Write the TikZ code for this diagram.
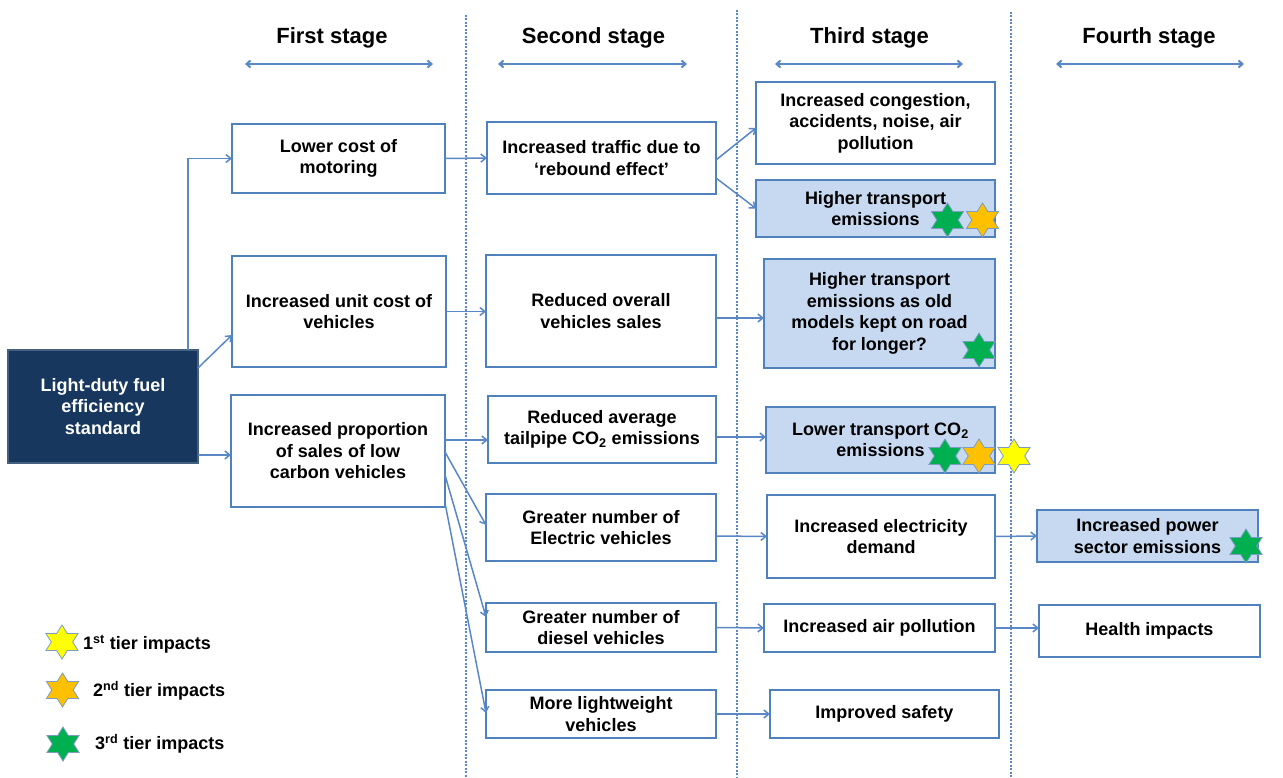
\documentclass[tikz,border=0pt]{standalone}
\usepackage{fontspec}
\setmainfont{Liberation Sans}
\usetikzlibrary{arrows.meta,calc}
\definecolor{edge}{HTML}{4F81BD}
\definecolor{linkblue}{HTML}{5A88C6}
\definecolor{paleblue}{HTML}{C6D9F1}
\definecolor{navy}{HTML}{17375E}
\definecolor{stargreen}{HTML}{00B050}
\definecolor{starorange}{HTML}{FFC000}
\definecolor{staryellow}{HTML}{FFFF00}
\definecolor{starline}{HTML}{7C9CC6}
\begin{document}
\begin{tikzpicture}[x=1pt,y=-1pt,
  every node/.style={font=\fontsize{18}{21.5}\selectfont\bfseries},
  box/.style={draw=edge, line width=1.4pt, fill=white, align=center, inner sep=2pt, outer sep=0pt},
  hibox/.style={box, fill=paleblue},
  srcbox/.style={box, draw=navy!80, fill=navy, text=white},
  link/.style={draw=linkblue, line width=1.5pt, -{Straight Barb[length=5pt,width=8pt]}},
  span/.style={draw=linkblue, line width=2pt, {Straight Barb[length=4pt,width=7pt]}-{Straight Barb[length=4pt,width=7pt]}},
  divider/.style={draw=linkblue, line width=1.2pt, dash pattern=on 2pt off 1.5pt},
  heading/.style={font=\fontsize{22}{26}\selectfont\bfseries},
  legend/.style={anchor=west, inner sep=0pt},
  % six-pointed impact star, slightly wider than tall
  pics/tierstar/.style={code={
    \filldraw[fill=#1, draw=starline, line width=0.8pt]
      plot[samples at={0,...,11}, variable=\k]
        ({1.09*(17-7.185*mod(\k,2))*cos(90+30*\k)}, {(17-7.185*mod(\k,2))*sin(90+30*\k)}) -- cycle;
  }}
]
\fill[white] (0,0) rectangle (1283,778);
\useasboundingbox (0,0) rectangle (1283,778);

% stage dividers
\draw[divider] (466,15) -- (466,778);
\draw[divider] (737,10) -- (737,778);
\draw[divider] (1011,12) -- (1011,778);

% stage headings and their spans
\node[heading] (h1) at (332,38) {First stage};
\node[heading] (h2) at (593.5,38) {Second stage};
\node[heading] (h3) at (869.5,38) {Third stage};
\node[heading] (h4) at (1149,38) {Fourth stage};
\coordinate (h1l) at (245,64);  \coordinate (h1r) at (433,64);
\coordinate (h2l) at (498,64);  \coordinate (h2r) at (687,64);
\coordinate (h3l) at (775,64);  \coordinate (h3r) at (963,64);
\coordinate (h4l) at (1056,64); \coordinate (h4r) at (1244,64);
\draw[span] (h1l) -- (h1r);
\draw[span] (h2l) -- (h2r);
\draw[span] (h3l) -- (h3r);
\draw[span] (h4l) -- (h4r);

% source
\node[srcbox, minimum width=190pt, minimum height=113pt] (lds) at (103,406.5) {Light-duty fuel\\efficiency\\standard};

% first stage
\node[box, minimum width=213pt, minimum height=69pt] (c1a) at (338.5,158.5) {Lower cost of\\motoring};
\node[box, minimum width=214pt, minimum height=111pt] (c1b) at (339,311.5) {Increased unit cost of\\vehicles};
\node[box, minimum width=214pt, minimum height=112pt] (c1c) at (338,451) {Increased proportion\\of sales of low\\carbon vehicles};

% second stage
\node[box, minimum width=229pt, minimum height=72pt] (c2a) at (601.5,158) {Increased traffic due to\\‘rebound effect’};
\node[box, minimum width=230pt, minimum height=112pt] (c2b) at (601,311) {Reduced overall\\vehicles sales};
\node[box, minimum width=228pt, minimum height=67pt] (c2c) at (602,429.5) {Reduced average\\tailpipe CO\textsubscript{2} emissions};
\node[box, minimum width=230pt, minimum height=67pt] (c2d) at (601,527.5) {Greater number of\\Electric vehicles};
\node[box, minimum width=230pt, minimum height=49pt] (c2e) at (601,627.5) {Greater number of\\diesel vehicles};
\node[box, minimum width=230pt, minimum height=48pt] (c2f) at (601,714) {More lightweight\\vehicles};

% third stage
\node[box, minimum width=239pt, minimum height=82pt] (c3a) at (875.5,123) {Increased congestion,\\accidents, noise, air\\pollution};
\node[hibox, minimum width=239pt, minimum height=57pt] (c3b) at (875.5,208.5) {Higher transport\\emissions};
\node[hibox, minimum width=231pt, minimum height=109pt] (c3c) at (879.5,313.5) {Higher transport\\emissions as old\\models kept on road\\for longer?};
\node[hibox, minimum width=229pt, minimum height=66pt] (c3d) at (880.5,440) {Lower transport CO\textsubscript{2}\\emissions};
\node[box, minimum width=228pt, minimum height=83pt] (c3e) at (881,536.5) {Increased electricity\\demand};
\node[box, minimum width=231pt, minimum height=48pt] (c3f) at (879.5,628) {Increased air pollution};
\node[box, minimum width=229pt, minimum height=48pt] (c3g) at (884.5,714) {Improved safety};

% fourth stage
\node[hibox, minimum width=221pt, minimum height=52pt] (c4a) at (1147.5,536) {Increased power\\sector emissions};
\node[box, minimum width=221pt, minimum height=52pt] (c4b) at (1149.5,631) {Health impacts};

% links
\draw[link] ([xshift=-10pt]lds.north east) |- (c1a.west);
\draw[link] ([yshift=-18pt]lds.north east) -- ([yshift=-23.5pt]c1b.west);
\draw[link] ([yshift=-48.5pt]lds.east) -- ([yshift=-48.5pt]lds.east -| c1c.west);

\draw[link] (c1a.east) -- (c2a.west);
\draw[link] (c1b.east) -- (c1b.east -| c2b.west);
\draw[link] ([yshift=11pt]c1c.east) -- ([yshift=11pt]c1c.east -| c2c.west);
\draw[link] ([yshift=-1pt]c1c.east) -- ([yshift=2.5pt]c2d.west);
\draw[link] ([yshift=-24pt]c1c.east) -- ([yshift=10.5pt]c2e.west);
\draw[link] ([yshift=4pt]c1c.south east) -- ([yshift=1pt]c2f.west);

\draw[link] ([yshift=-2pt]c2a.east) -- ([yshift=-5pt]c3a.west);
\draw[link] ([yshift=-20pt]c2a.east) -- (c3b.west);
\draw[link] ([yshift=-7pt]c2b.east) -- ([yshift=-7pt]c2b.east -| c3c.west);
\draw[link] ([yshift=-7.5pt]c2c.east) -- ([yshift=-7.5pt]c2c.east -| c3d.west);
\draw[link] ([yshift=-8.5pt]c2d.east) -- (c3e.west);
\draw[link] (c2e.east) -- (c3f.west);
\draw[link] (c2f.east) -- (c3g.west);

\draw[link] (c3e.east) -- (c4a.west);
\draw[link] (c3f.east) -- (c3f.east -| c4b.west);

% impact stars
\pic at (947.5,220) {tierstar=stargreen};
\pic at (982.5,220) {tierstar=starorange};
\pic at (979,350) {tierstar=stargreen};
\pic at (945,456) {tierstar=stargreen};
\pic at (979,456) {tierstar=starorange};
\pic at (1014,456) {tierstar=staryellow};
\pic at (1246,546) {tierstar=stargreen};

% legend
\pic at (62,642) {tierstar=staryellow};
\pic at (62.5,690) {tierstar=starorange};
\pic at (63,744) {tierstar=stargreen};
\node[legend] (k1t) at (83,644) {1\textsuperscript{st} tier impacts};
\node[legend] (k2t) at (93,691) {2\textsuperscript{nd} tier impacts};
\node[legend] (k3t) at (95,744) {3\textsuperscript{rd} tier impacts};
\end{tikzpicture}
\end{document}
